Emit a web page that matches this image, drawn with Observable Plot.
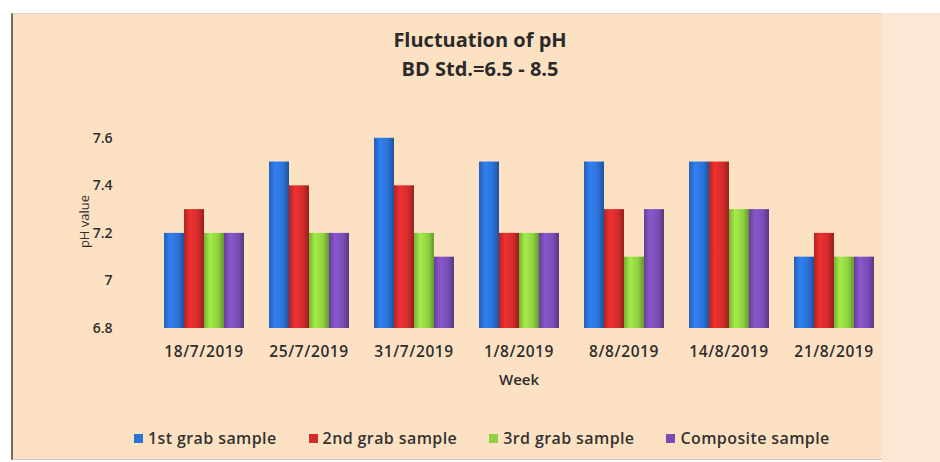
<!DOCTYPE html>
<html>
<head>
<meta charset="utf-8">
<script src="https://cdn.jsdelivr.net/npm/d3@7"></script>
<script src="https://cdn.jsdelivr.net/npm/@observablehq/plot@0.6"></script>
<style>
  html, body { margin: 0; padding: 0; background: #ffffff; width: 940px; height: 462px; overflow: hidden; }
  #frame { position: absolute; left: 11px; top: 13px; width: 869px; height: 445px;
    background: #fde1c3; border-left: 2px solid #6e6a66; border-top: 1px solid #d9d4cc; border-bottom: 1px solid #cfc7bd; }
  #rightpad { position: absolute; left: 882px; top: 13px; width: 58px; height: 449px; background: #fbe7d3; }
  #title { position: absolute; left: 300px; width: 360px; top: 25px; text-align: center;
    font-family: "Open Sans", sans-serif; font-weight: 700; font-size: 20px; line-height: 29px; color: #2a2a2a; }
  #chart { position: absolute; left: 0; top: 90px; }
  #legend { position: absolute; top: 427px; left: 134px; display: flex; gap: 32px;
    font-family: "Open Sans", sans-serif; font-weight: 600; font-size: 16px; letter-spacing: 0.4px; color: #333; }
  #legend .item { display: flex; align-items: center; gap: 5px; }
  #legend .sw { width: 9px; height: 9px; }
</style>
</head>
<body>
<div id="frame"></div>
<div id="rightpad"></div>
<div id="title">Fluctuation of pH<br>BD Std.=6.5 - 8.5</div>
<div id="chart"></div>
<div id="legend"></div>
<script>
const weeks = ["18/7/2019", "25/7/2019", "31/7/2019", "1/8/2019", "8/8/2019", "14/8/2019", "21/8/2019"];
const seriesNames = ["1st grab sample", "2nd grab sample", "3rd grab sample", "Composite sample"];
const grab1 = [7.2, 7.5, 7.6, 7.5, 7.5, 7.5, 7.1];
const grab2 = [7.3, 7.4, 7.4, 7.2, 7.3, 7.5, 7.2];
const grab3 = [7.2, 7.2, 7.2, 7.2, 7.1, 7.3, 7.1];
const composite = [7.2, 7.2, 7.1, 7.2, 7.3, 7.3, 7.1];
const yTicks = [6.8, 7, 7.2, 7.4, 7.6];
const baseColors = ["#2b72d6", "#d42b2b", "#8fd140", "#7a4db5"];

const seriesValues = [grab1, grab2, grab3, composite];
const data = [];
weeks.forEach((w, i) => {
  seriesNames.forEach((s, j) => data.push({week: w, series: s, value: seriesValues[j][i]}));
});

const gradIds = baseColors.map((c, i) => `url(#bar-grad-${i})`);

const chart = Plot.plot({
  width: 940,
  height: 310,
  marginLeft: 149,
  marginRight: 52,
  marginTop: 24,
  marginBottom: 72,
  style: {background: "transparent", fontFamily: "Open Sans, sans-serif", fontSize: "15px", fontWeight: 600, color: "#2e2e2e"},
  fx: {domain: weeks, paddingInner: 0.23, paddingOuter: 0.12, tickSize: 0, tickPadding: 17,
       label: "Week", labelAnchor: "center", labelOffset: 56, labelArrow: false},
  x: {domain: seriesNames, padding: 0, axis: null},
  y: {domain: [6.8, 7.7], ticks: yTicks, tickSize: 0, tickPadding: 51, tickFormat: d => String(d),
      label: "pH value", labelAnchor: "center", labelOffset: 84, labelArrow: false},
  color: {domain: seriesNames, range: gradIds},
  marks: [
    Plot.barY(data, {fx: "week", x: "series", y1: 6.8, y2: "value", fill: "series"})
  ]
});

// gradients for a cylindrical 3D look
const defs = d3.select(chart).insert("defs", ":first-child");
baseColors.forEach((c, i) => {
  const base = d3.color(c);
  const g = defs.append("linearGradient").attr("id", `bar-grad-${i}`).attr("x1", 0).attr("x2", 1).attr("y1", 0).attr("y2", 0);
  g.append("stop").attr("offset", "0%").attr("stop-color", base.darker(0.5));
  g.append("stop").attr("offset", "30%").attr("stop-color", base.brighter(0.35));
  g.append("stop").attr("offset", "70%").attr("stop-color", base);
  g.append("stop").attr("offset", "100%").attr("stop-color", base.darker(0.9));
});
// axis text sizing
d3.select(chart).selectAll("g[aria-label='fx-axis tick label'] text").style("font-size", "15.5px").style("letter-spacing", "0.6px");
d3.select(chart).selectAll("g[aria-label='y-axis tick label'] text").style("font-size", "14px");
d3.select(chart).selectAll("g[aria-label='y-axis label'] text").style("font-size", "13px").style("font-weight", 500);
document.getElementById("chart").appendChild(chart);

const legend = document.getElementById("legend");
seriesNames.forEach((s, i) => {
  const item = document.createElement("div");
  item.className = "item";
  const sw = document.createElement("span");
  sw.className = "sw";
  sw.style.background = baseColors[i];
  const t = document.createElement("span");
  t.textContent = s;
  item.appendChild(sw); item.appendChild(t);
  legend.appendChild(item);
});
</script>
</body>
</html>
